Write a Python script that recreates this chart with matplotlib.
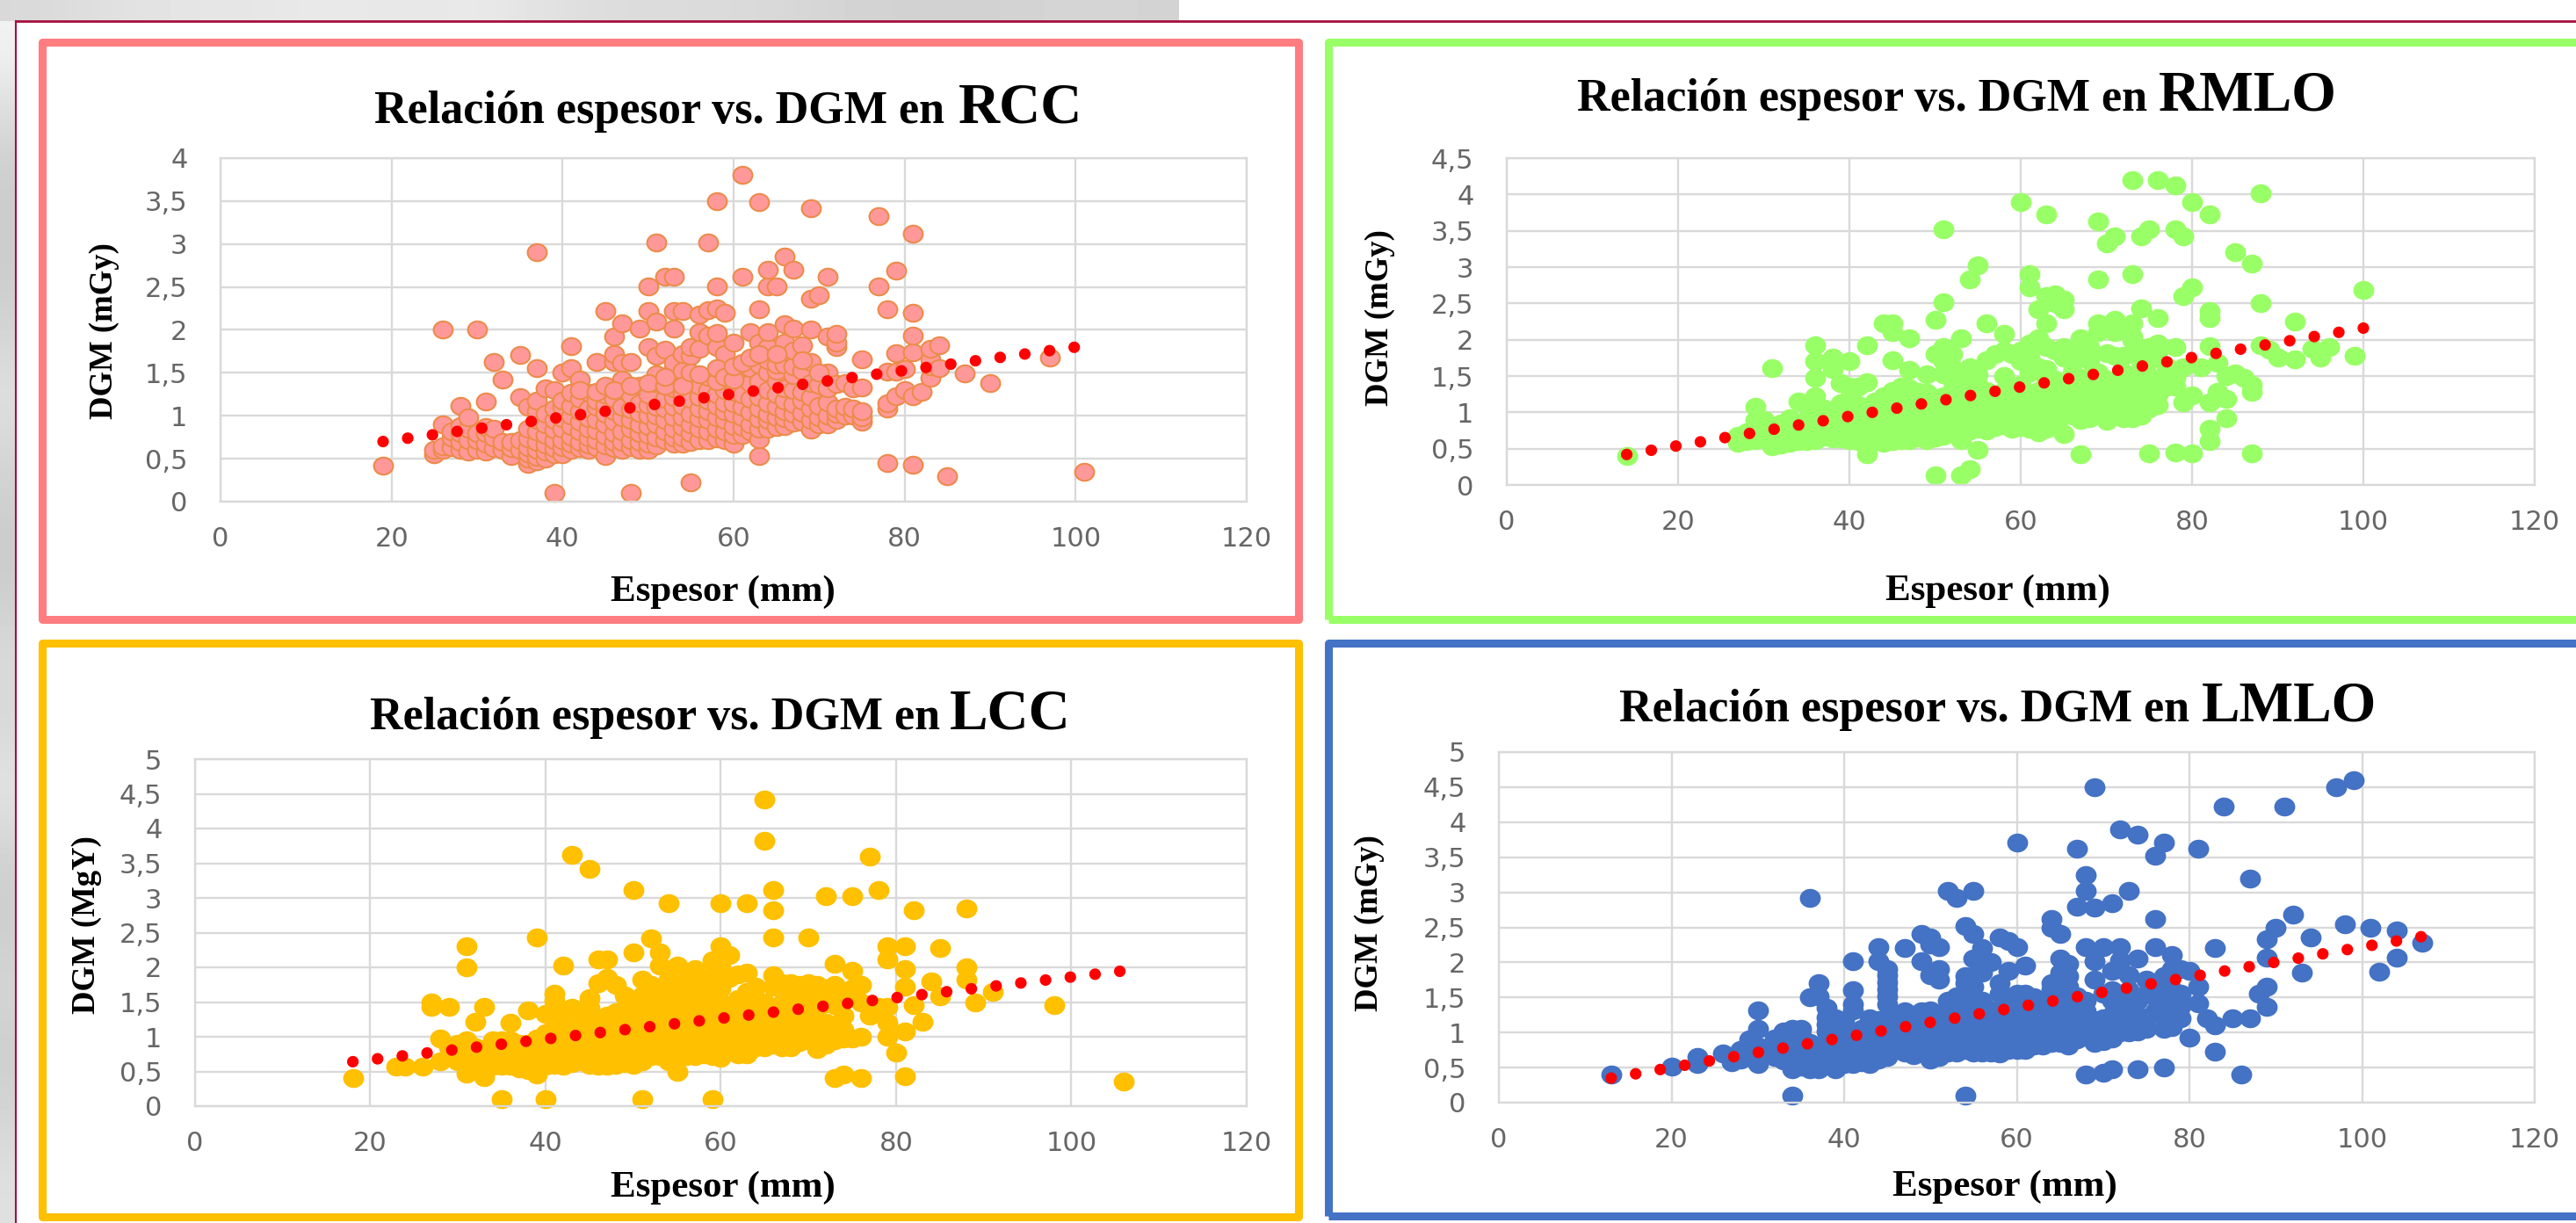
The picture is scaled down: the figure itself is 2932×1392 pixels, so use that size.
import matplotlib
matplotlib.use("Agg")
import matplotlib.pyplot as plt
from matplotlib.markers import MarkerStyle
from matplotlib.patches import Rectangle
from matplotlib.transforms import Affine2D
import numpy as np

W, H = 2932, 1392

# =========================
# DATA (thickness mm, DGM mGy)
# =========================
rcc_points = [
    (19,.42),(25,.55),(25,.6),(26,.6),(26,.64),(26,.9),(26,2.01),(27,.63),(27,.75),(27,.82),
    (28,.6),(28,.7),(28,.8),(28,.88),(28,1.11),(29,.58),(29,.72),(29,.85),(29,.98),
    (30,.6),(30,.72),(30,.8),(30,2.01),(31,.58),(31,.68),(31,.8),(31,.87),(31,1.17),
    (32,.62),(32,.75),(32,.85),(32,1.63),(33,.6),(33,.7),(33,1.42),(34,.53),(34,.62),(34,.7),
    (35,.6),(35,.72),(35,1.22),(35,1.71),(36,.44),(36,.5),(36,.56),(36,.63),(36,.74),(36,.85),(36,1.1),
    (37,.47),(37,.52),(37,.6),(37,.7),(37,.82),(37,.95),(37,1.05),(37,1.18),(37,1.55),(37,2.91),
    (38,.5),(38,.58),(38,.66),(38,.78),(38,.9),(38,1.02),(38,1.32),
    (39,.1),(39,.55),(39,.62),(39,.72),(39,.84),(39,.95),(39,1.08),(39,1.3),
    (40,.55),(40,.63),(40,.72),(40,.85),(40,.97),(40,1.1),(40,1.18),(40,1.5),
    (41,.6),(41,.68),(41,.76),(41,.88),(41,1.0),(41,1.12),(41,1.27),(41,1.55),(41,1.81),
    (42,.62),(42,.7),(42,.82),(42,.93),(42,1.05),(42,1.2),(42,1.42),
    (43,.6),(43,.66),(43,.75),(43,.85),(43,.97),(43,1.08),(43,1.27),
    (44,.63),(44,.72),(44,.83),(44,.95),(44,1.1),(44,1.18),(44,1.63),
    (45,.53),(45,.65),(45,.77),(45,.9),(45,1.02),(45,1.13),(45,1.25),(45,2.22),
    (46,.62),(46,.7),(46,.8),(46,.93),(46,1.05),(46,1.2),(46,1.63),(46,1.72),(46,1.92),
    (47,.6),(47,.7),(47,.82),(47,.98),(47,1.1),(47,1.3),(47,1.42),(47,1.62),(47,2.08),
    (48,.1),(48,.63),(48,.72),(48,.85),(48,.95),(48,1.07),(48,1.24),(48,1.63),
    (49,.6),(49,.7),(49,.8),(49,.9),(49,1.03),(49,1.15),(49,1.35),(49,2.02),
    (50,.6),(50,.68),(50,.78),(50,.88),(50,1.0),(50,1.13),(50,1.25),(50,1.8),(50,2.22),(50,2.51),
    (51,.65),(51,.75),(51,.9),(51,1.0),(51,1.1),(51,1.38),(51,1.48),(51,1.7),(51,2.1),(51,3.02),
    (52,.72),(52,.82),(52,.95),(52,1.08),(52,1.2),(52,1.77),(52,2.62),
    (53,.68),(53,.75),(53,.85),(53,.98),(53,1.1),(53,1.22),(53,1.32),(53,1.4),(53,1.55),(53,1.62),(53,2.02),(53,2.22),(53,2.62),
    (54,.68),(54,.75),(54,.87),(54,.98),(54,1.12),(54,1.25),(54,1.52),(54,1.72),(54,2.22),
    (55,.22),(55,.7),(55,.8),(55,.9),(55,1.02),(55,1.2),(55,1.42),(55,1.7),(55,1.8),
    (56,.72),(56,.85),(56,.97),(56,1.08),(56,1.22),(56,1.35),(56,1.78),(56,1.97),(56,2.18),
    (57,.72),(57,.82),(57,.95),(57,1.05),(57,1.18),(57,1.3),(57,1.45),(57,1.93),(57,2.23),(57,3.02),
    (58,.74),(58,.85),(58,.98),(58,1.12),(58,1.25),(58,1.8),(58,1.96),(58,2.25),(58,2.51),(58,3.5),
    (59,.72),(59,.82),(59,.95),(59,1.05),(59,1.15),(59,1.3),(59,1.72),(59,2.2),
    (60,.68),(60,.78),(60,.88),(60,1.02),(60,1.15),(60,1.28),(60,1.85),
    (61,.78),(61,.87),(61,.98),(61,1.1),(61,1.25),(61,1.45),(61,1.52),(61,2.62),(61,3.81),
    (62,.82),(62,.9),(62,1.04),(62,1.2),(62,1.38),(62,1.55),(62,1.97),
    (63,.53),(63,.73),(63,.85),(63,.96),(63,1.08),(63,1.22),(63,1.4),(63,1.6),(63,1.85),(63,2.24),(63,3.49),
    (64,.85),(64,.95),(64,1.02),(64,1.15),(64,1.3),(64,1.5),(64,1.65),(64,1.8),(64,1.97),(64,2.51),(64,2.7),
    (65,.87),(65,.98),(65,1.1),(65,1.25),(65,1.4),(65,1.52),(65,1.6),(65,2.51),
    (66,.88),(66,.97),(66,1.05),(66,1.18),(66,1.32),(66,1.6),(66,1.75),(66,1.85),(66,2.07),(66,2.85),
    (67,.92),(67,1.02),(67,1.14),(67,1.3),(67,1.47),(67,1.58),(67,1.76),(67,2.02),(67,2.7),
    (68,.93),(68,1.03),(68,1.18),(68,1.28),(68,1.52),(68,1.82),
    (69,.84),(69,.95),(69,1.08),(69,1.22),(69,1.38),(69,1.63),(69,2.0),(69,2.36),(69,3.42),
    (70,.9),(70,.98),(70,1.12),(70,1.36),(70,2.4),
    (71,.9),(71,1.0),(71,1.16),(71,1.32),(71,1.5),(71,1.92),(71,2.62),
    (72,.95),(72,1.02),(72,1.08),(72,1.37),(72,1.8),(72,1.85),(72,1.95),
    (73,1.0),(73,1.1),(73,1.38),(74,1.0),(74,1.08),(74,1.32),(75,.93),(75,.98),(75,1.05),(75,1.33),(75,1.66),
    (77,2.51),(77,3.32),(78,.45),(78,1.08),(78,1.15),(78,1.51),(78,2.24),(79,1.23),(79,1.51),(79,1.73),(79,2.69),
    (80,1.3),(80,1.54),(81,.43),(81,1.23),(81,1.74),(81,1.93),(81,2.2),(81,3.12),(82,1.28),
    (83,1.44),(83,1.58),(83,1.66),(83,1.78),(84,1.56),(84,1.82),(85,.3),(87,1.49),(90,1.38),(97,1.68),(101,.35),
]

# upper part of the RCC cloud, x 42 to 70
rcc_points_upper = [
    (42,1.3),(44,1.28),(45,1.35),(46,1.3),(48,1.35),(50,1.38),(52,1.35),(52,1.45),(54,1.35),(55,1.5),(56,1.48),
    (58,1.4),(58,1.55),(59,1.45),(60,1.42),(60,1.58),(61,1.62),(62,1.68),(63,1.72),(65,1.72),(68,1.65),(70,1.5),
]

rmlo_points = [
    (14,.4),(27,.58),(27,.68),(28,.6),(28,.72),(29,.62),(29,.9),(29,1.08),(30,.65),(30,.75),(30,.9),
    (31,.53),(31,.68),(31,.8),(31,1.61),(32,.56),(32,.7),(32,.85),(33,.58),(33,.72),(33,.92),
    (34,.6),(34,.72),(34,.85),(34,1.15),(35,.6),(35,.73),(35,.9),(35,1.1),(36,.62),(36,.75),(36,.88),(36,1.22),(36,1.47),(36,1.7),(36,1.92),
    (37,.66),(37,.78),(37,.92),(37,1.05),(38,.64),(38,.76),(38,.9),(38,1.0),(38,1.6),(38,1.75),
    (39,.64),(39,.75),(39,.87),(39,1.02),(39,1.13),(39,1.4),(40,.62),(40,.72),(40,.85),(40,1.0),(40,1.2),(40,1.35),(40,1.7),
    (41,.6),(41,.7),(41,.82),(41,.95),(41,1.1),(41,1.35),(42,.42),(42,.62),(42,.74),(42,.86),(42,1.02),(42,1.42),(42,1.92),
    (43,.6),(43,.72),(43,.85),(43,.98),(43,1.15),(44,.58),(44,.7),(44,.82),(44,.95),(44,1.08),(44,1.22),(44,2.22),
    (45,.6),(45,.72),(45,.85),(45,1.0),(45,1.15),(45,1.3),(45,1.72),(45,2.1),(45,2.22),
    (46,.62),(46,.75),(46,.88),(46,1.02),(46,1.2),(46,1.35),(47,.62),(47,.74),(47,.86),(47,1.0),(47,1.2),(47,1.33),(47,1.58),(47,2.02),
    (48,.65),(48,.78),(48,.9),(48,1.02),(48,1.12),(48,1.28),(49,.62),(49,.75),(49,.88),(49,1.05),(49,1.27),(49,1.52),
    (50,.13),(50,.65),(50,.78),(50,.9),(50,1.05),(50,1.2),(50,1.8),(50,2.27),(51,.68),(51,.8),(51,.93),(51,1.08),(51,1.22),(51,1.52),(51,1.7),(51,1.9),(51,2.52),(51,3.52),
    (52,.72),(52,.85),(52,1.0),(52,1.15),(52,1.3),(52,1.45),(52,1.62),(52,1.8),(53,.13),(53,.62),(53,.75),(53,.88),(53,1.03),(53,1.18),(53,1.35),(53,1.5),(53,2.02),
    (54,.22),(54,.75),(54,.9),(54,1.05),(54,1.2),(54,1.38),(54,1.62),(54,2.83),(55,.48),(55,.78),(55,.92),(55,1.05),(55,1.2),(55,1.38),(55,1.52),(55,3.02),
    (56,.75),(56,.88),(56,1.03),(56,1.18),(56,1.3),(56,1.72),(56,2.22),(57,.8),(57,.95),(57,1.08),(57,1.25),(57,1.8),(58,.82),(58,.97),(58,1.12),(58,1.3),(58,1.5),(58,1.85),(58,2.08),
    (59,.78),(59,.9),(59,1.05),(59,1.2),(59,1.8),(60,.8),(60,.95),(60,1.1),(60,1.25),(60,1.38),(60,1.7),(60,1.85),(60,3.9),
    (61,.78),(61,.92),(61,1.05),(61,1.18),(61,1.55),(61,1.75),(61,1.95),(61,2.72),(61,2.9),(62,.72),(62,.85),(62,1.0),(62,1.15),(62,1.3),(62,1.62),(62,2.02),(62,2.42),
    (63,.78),(63,.9),(63,1.05),(63,1.2),(63,1.4),(63,1.6),(63,1.9),(63,2.22),(63,2.6),(63,3.72),(64,.85),(64,1.0),(64,1.15),(64,1.3),(64,1.45),(64,1.85),(64,2.5),(64,2.62),
    (65,.7),(65,.95),(65,1.1),(65,1.25),(65,1.4),(65,1.75),(65,1.9),(65,2.42),(65,2.55),(66,.95),(66,1.08),(66,1.22),(66,1.38),(66,1.55),(66,1.85),
    (67,.42),(67,.9),(67,1.05),(67,1.2),(67,1.35),(67,1.75),(67,2.02),(68,.92),(68,1.05),(68,1.2),(68,1.32),(68,1.5),(68,1.72),(68,1.9),(69,.98),(69,1.12),(69,1.25),(69,1.4),(69,1.55),(69,2.1),(69,2.22),(69,2.83),(69,3.63),
    (70,.88),(70,1.0),(70,1.15),(70,1.3),(70,1.45),(70,1.82),(70,3.33),(71,.95),(71,1.08),(71,1.22),(71,1.35),(71,1.78),(71,2.1),(71,2.28),(71,3.42),
    (72,.92),(72,1.05),(72,1.2),(72,1.38),(72,1.55),(72,1.78),(73,.92),(73,1.05),(73,1.2),(73,1.35),(73,1.5),(73,1.8),(73,2.0),(73,2.05),(73,2.22),(73,2.9),(73,4.2),
    (74,.95),(74,1.1),(74,1.28),(74,1.42),(74,1.62),(74,2.43),(74,3.42),(75,.43),(75,1.05),(75,1.18),(75,1.5),(75,1.72),(75,1.9),(75,3.52),(76,1.1),(76,1.25),(76,1.38),(76,1.85),(76,1.95),(76,2.3),(76,4.2),
    (77,1.35),(77,1.5),(77,1.63),(78,.45),(78,1.35),(78,1.48),(78,1.9),(78,3.52),(78,4.12),(79,1.14),(79,1.62),(79,2.6),(79,3.42),(80,.43),(80,1.23),(80,2.72),(80,3.9),
    (81,1.62),(82,.6),(82,.77),(82,1.14),(82,1.91),(82,2.3),(82,2.4),(82,3.72),(83,1.28),(83,1.68),(84,.92),(84,1.19),(84,1.5),(85,1.54),(85,3.2),(86,1.48),
    (87,.43),(87,1.28),(87,1.38),(87,3.05),(88,1.92),(88,2.5),(88,4.02),(89,1.86),(90,1.76),(92,1.73),(92,2.25),(94,1.88),(95,1.75),(96,1.9),(99,1.78),(100,2.68),
]

lcc_points = [
    (18,.4),(23,.57),(24,.57),(26,.57),(27,1.43),(27,1.5),(28,.65),(28,.97),(29,.85),(29,1.43),(30,.65),(30,.9),(31,.47),(31,.62),(31,.75),(31,.95),(31,2.0),(31,2.3),
    (32,.6),(32,.72),(32,.85),(32,1.22),(33,.42),(33,.6),(33,.7),(33,.82),(33,1.43),(34,.58),(34,.7),(34,.82),(34,.95),(35,.1),(35,.58),(35,.72),(35,.85),(35,.95),
    (36,.58),(36,.7),(36,.82),(36,.95),(36,1.2),(37,.55),(37,.68),(37,.8),(37,.9),(38,.52),(38,.65),(38,.78),(38,.9),(38,1.38),(39,.45),(39,.6),(39,.72),(39,.85),(39,.98),(39,2.43),
    (40,.1),(40,.58),(40,.7),(40,.82),(40,.95),(40,1.05),(40,1.33),(41,.6),(41,.72),(41,.85),(41,1.0),(41,1.15),(41,1.52),(41,1.62),(42,.58),(42,.7),(42,.85),(42,1.0),(42,1.15),(42,1.35),(42,2.02),
    (43,.62),(43,.75),(43,.9),(43,1.05),(43,1.42),(43,3.62),(44,.65),(44,.78),(44,.92),(44,1.05),(44,1.25),(45,.6),(45,.72),(45,.85),(45,1.0),(45,1.15),(45,1.42),(45,1.56),(45,3.42),
    (46,.58),(46,.7),(46,.85),(46,1.0),(46,1.2),(46,1.77),(46,2.11),(47,.58),(47,.72),(47,.88),(47,1.05),(47,1.3),(47,1.85),(47,2.11),(48,.6),(48,.75),(48,.9),(48,1.05),(48,1.2),(48,1.35),(48,1.75),
    (49,.62),(49,.78),(49,.92),(49,1.08),(49,1.25),(49,1.42),(49,1.6),(50,.6),(50,.72),(50,.85),(50,1.0),(50,1.15),(50,1.32),(50,1.5),(50,2.22),(50,3.12),
    (51,.1),(51,.65),(51,.8),(51,.95),(51,1.1),(51,1.25),(51,1.42),(51,1.6),(51,1.82),(52,.72),(52,.88),(52,1.02),(52,1.18),(52,1.35),(52,1.52),(52,1.75),(52,2.42),
    (53,.72),(53,.85),(53,1.0),(53,1.15),(53,1.3),(53,1.5),(53,1.65),(53,2.03),(53,2.22),(54,.65),(54,.8),(54,.95),(54,1.1),(54,1.25),(54,1.42),(54,1.82),(54,2.92),
    (55,.5),(55,.72),(55,.88),(55,1.02),(55,1.18),(55,1.35),(55,1.55),(55,1.72),(55,2.02),(56,.72),(56,.85),(56,1.0),(56,1.15),(56,1.32),(56,1.48),(56,1.65),(56,1.8),
    (57,.72),(57,.88),(57,1.02),(57,1.18),(57,1.35),(57,1.55),(57,1.75),(57,1.97),(58,.75),(58,.9),(58,1.05),(58,1.22),(58,1.38),(58,1.55),(58,1.72),(58,1.85),
    (59,.1),(59,.72),(59,.85),(59,1.0),(59,1.15),(59,1.3),(59,1.48),(59,1.68),(59,1.88),(59,2.1),(60,.7),(60,.85),(60,1.0),(60,1.15),(60,1.32),(60,1.5),(60,1.7),(60,2.0),(60,2.3),(60,2.92),
    (61,.78),(61,.92),(61,1.08),(61,1.22),(61,1.4),(61,1.85),(61,2.18),(62,.75),(62,.88),(62,1.02),(62,1.18),(62,1.35),(62,1.55),(62,1.9),(63,.75),(63,.9),(63,1.05),(63,1.2),(63,1.42),(63,1.65),(63,1.92),(63,2.92),
    (64,.85),(64,1.0),(64,1.15),(64,1.3),(64,1.55),(64,1.72),(65,.85),(65,.98),(65,1.12),(65,1.3),(65,1.5),(65,3.82),(65,4.42),(66,.88),(66,1.02),(66,1.18),(66,1.35),(66,1.72),(66,1.88),(66,2.43),(66,2.82),(66,3.12),
    (67,.85),(67,1.0),(67,1.15),(67,1.32),(67,1.48),(67,1.77),(68,.85),(68,.98),(68,1.12),(68,1.28),(68,1.62),(68,1.77),(69,.92),(69,1.05),(69,1.22),(69,1.42),(69,1.75),(70,.95),(70,1.1),(70,1.3),(70,1.55),(70,1.77),(70,2.43),
    (71,.82),(71,.97),(71,1.15),(71,1.42),(71,1.6),(71,1.75),(72,.88),(72,1.02),(72,1.2),(72,1.48),(72,1.7),(72,3.02),(73,.4),(73,.95),(73,1.1),(73,1.45),(73,1.75),(73,2.05),(74,.45),(74,.98),(74,1.1),(74,1.3),(74,1.62),
    (75,.98),(75,1.7),(75,1.95),(75,3.02),(76,.4),(76,1.0),(76,1.5),(76,1.75),(77,1.3),(77,1.45),(77,3.6),(78,1.43),(78,3.12),(79,1.0),(79,1.2),(79,1.43),(79,2.11),(79,2.3),
    (80,.77),(81,.43),(81,1.08),(81,1.72),(81,1.97),(81,2.3),(82,1.45),(82,2.82),(83,1.22),(84,1.8),(85,1.58),(85,2.28),(88,1.82),(88,2.0),(88,2.85),(89,1.5),(91,1.65),(98,1.45),(106,.35),
]

lmlo_points = [
    (13,.4),(20,.52),(23,.55),(23,.65),(26,.7),(27,.58),(27,.66),(28,.62),(28,.75),(29,.72),(29,.9),(30,.55),(30,.8),(30,1.05),(30,1.32),
    (31,.68),(31,.78),(32,.65),(32,.72),(32,.92),(33,.6),(33,.72),(33,.88),(33,1.02),(34,.1),(34,.48),(34,.6),(34,.72),(34,.9),(34,1.05),(35,.52),(35,.65),(35,.78),(35,.95),(35,1.05),
    (36,.48),(36,.6),(36,.72),(36,.85),(36,1.5),(36,2.92),(37,.48),(37,.6),(37,.7),(37,.82),(37,1.52),(37,1.7),(38,.55),(38,.68),(38,.8),(38,1.02),(38,1.12),(38,1.22),(38,1.35),
    (39,.48),(39,.6),(39,.72),(39,.85),(39,1.02),(39,1.12),(39,1.2),(40,.55),(40,.65),(40,.78),(40,.92),(40,1.05),(40,1.18),(41,.55),(41,.68),(41,.8),(41,.95),(41,1.32),(41,1.4),(41,1.6),(41,2.02),
    (42,.58),(42,.7),(42,.82),(42,.95),(42,1.05),(43,.55),(43,.68),(43,.8),(43,.92),(43,1.08),(43,1.2),(44,.62),(44,.75),(44,.88),(44,1.02),(44,1.18),(44,2.02),(44,2.22),
    (45,.65),(45,.78),(45,.9),(45,1.05),(45,1.2),(45,1.4),(45,1.52),(45,1.62),(45,1.72),(45,1.82),(45,1.9),(46,.75),(46,.88),(46,1.02),(46,1.18),(47,.72),(47,.85),(47,1.0),(47,1.15),(47,1.3),(47,2.21),
    (48,.68),(48,.82),(48,.95),(48,1.1),(48,1.25),(49,1.05),(49,1.2),(49,1.3),(49,2.02),(49,2.41),(50,.62),(50,.72),(50,.85),(50,1.0),(50,1.15),(50,1.32),(50,1.82),(50,2.25),(50,2.35),
    (51,.65),(51,.78),(51,.92),(51,1.08),(51,1.25),(51,1.75),(51,1.9),(51,2.22),(52,.72),(52,.85),(52,1.0),(52,1.15),(52,1.3),(52,1.45),(52,3.02),(53,.72),(53,.85),(53,1.0),(53,1.15),(53,1.32),(53,1.52),(53,2.92),
    (54,.1),(54,.75),(54,.88),(54,1.02),(54,1.18),(54,1.35),(54,1.52),(54,1.7),(54,1.8),(54,2.52),(55,.72),(55,.85),(55,1.0),(55,1.15),(55,1.32),(55,1.5),(55,1.65),(55,1.8),(55,2.06),(55,2.4),(55,3.02),
    (56,.72),(56,.85),(56,1.0),(56,1.15),(56,1.3),(56,1.45),(56,1.85),(56,2.2),(57,.72),(57,.88),(57,1.02),(57,1.18),(57,1.32),(57,2.0),(58,.7),(58,.85),(58,1.0),(58,1.15),(58,1.3),(58,1.55),(58,1.7),(58,2.35),
    (59,.75),(59,.88),(59,1.02),(59,1.18),(59,1.35),(59,1.5),(59,1.88),(59,2.3),(60,.75),(60,.9),(60,1.05),(60,1.2),(60,1.38),(60,1.55),(60,2.22),(60,3.71),(61,.75),(61,.88),(61,1.02),(61,1.35),(61,1.55),(61,1.95),
    (62,.82),(62,.95),(62,1.08),(62,1.22),(62,1.38),(62,1.5),(63,.82),(63,.95),(63,1.1),(63,1.25),(63,1.4),(64,.85),(64,.98),(64,1.12),(64,1.28),(64,1.42),(64,1.62),(64,1.7),(64,2.5),(64,2.62),
    (65,.85),(65,.98),(65,1.12),(65,1.28),(65,1.6),(65,1.75),(65,1.85),(65,2.05),(65,2.4),(66,.82),(66,.95),(66,1.1),(66,1.25),(66,1.5),(66,1.65),(66,1.8),(66,1.98),
    (67,.9),(67,1.03),(67,1.18),(67,1.38),(67,1.52),(67,2.8),(67,3.62),(68,.4),(68,.95),(68,1.1),(68,1.3),(68,1.45),(68,2.22),(68,3.02),(68,3.25),(69,.85),(69,1.0),(69,1.18),(69,1.75),(69,2.02),(69,2.78),(69,4.5),
    (70,.42),(70,.88),(70,1.02),(70,1.2),(70,1.55),(70,2.22),(71,.47),(71,.92),(71,1.08),(71,1.25),(71,1.45),(71,1.6),(71,1.88),(71,2.85),(72,1.0),(72,1.2),(72,1.4),(72,1.55),(72,1.9),(72,2.03),(72,2.22),(72,3.9),
    (73,1.0),(73,1.15),(73,1.4),(73,1.6),(73,1.82),(73,3.02),(74,.48),(74,1.02),(74,1.2),(74,1.45),(74,2.05),(74,3.82),(75,1.05),(75,1.22),(75,1.55),(75,1.75),(76,1.3),(76,1.5),(76,1.65),(76,2.22),(76,2.62),(76,3.52),
    (77,.5),(77,1.05),(77,1.2),(77,1.45),(77,1.6),(77,1.8),(77,3.71),(78,1.08),(78,1.22),(78,1.42),(78,1.62),(78,1.9),(78,2.1),(79,1.2),(79,1.38),(79,1.55),(79,1.9),(80,.93),(80,1.88),
    (81,1.42),(81,1.65),(81,3.62),(82,1.2),(83,.73),(83,1.1),(83,2.2),(84,4.22),(85,1.2),(86,.4),(87,1.2),(87,3.2),(88,1.55),(89,1.37),(89,1.65),(89,2.07),(89,2.33),(90,2.5),
    (91,4.22),(92,2.68),(93,1.85),(94,2.35),(97,4.5),(98,2.55),(99,4.6),(101,2.5),(102,1.87),(104,2.07),(104,2.45),(107,2.28),
]

# trend lines: start and end of the fitted line
rcc_trend_x, rcc_trend_y = [19, 100], [0.70, 1.80]
rmlo_trend_x, rmlo_trend_y = [14, 100], [0.42, 2.16]
lcc_trend_x, lcc_trend_y = [18, 106], [0.64, 1.95]
lmlo_trend_x, lmlo_trend_y = [13, 107], [0.35, 2.37]

x_ticks = [0, 20, 40, 60, 80, 100, 120]
y_ticks_4 = [0, 0.5, 1, 1.5, 2, 2.5, 3, 3.5, 4]
y_ticks_45 = y_ticks_4 + [4.5]
y_ticks_5 = y_ticks_45 + [5]

top_strip = [.85, .88, .90, .90, .92, .90, .92, .88, .86, .86, .85, .83, .82, .82, .84, .83]
left_strip = [.95, .85, .80, .80, .82, .88, .84, .80, .80, .86, .84, .90, .82, .80, .84, .80, .84, .88]

# =========================
# FIGURE
# =========================
fig = plt.figure(figsize=(W / 100, H / 100), dpi=100, facecolor="white")


def box(x0, y0, x1, y1):
    return [x0 / W, 1 - y1 / H, (x1 - x0) / W, (y1 - y0) / H]


def ftext(x, y, s, **kw):
    return fig.text(x / W, 1 - y / H, s, **kw)


# grey photo behind the slide
bg = fig.add_axes(box(0, 0, 1342, 24))
bg.imshow(np.array([top_strip]), cmap="gray", vmin=0, vmax=1, aspect="auto", interpolation="bicubic")
bg.axis("off")
bg = fig.add_axes(box(0, 24, 18, H))
bg.imshow(np.array([left_strip]).T, cmap="gray", vmin=0, vmax=1, aspect="auto", interpolation="bicubic")
bg.axis("off")
fig.add_artist(plt.Line2D([18 / W, 1], [1 - 24 / H] * 2, color="#A50F3E", lw=2))
fig.add_artist(plt.Line2D([18 / W] * 2, [0, 1 - 24 / H], color="#A50F3E", lw=1.5))


def panel(points, trend_x, trend_y, yticks, ymax, color, edge, frame_color, frame, axes_box,
          name, title_x, name_x, title_y, ylabel, ylabel_pos, xlabel_pos):
    # coloured frame
    x0, y0, x1, y1 = frame
    fig.add_artist(Rectangle((x0 / W, 1 - y1 / H), (x1 - x0) / W, (y1 - y0) / H, transform=fig.transFigure,
                             fill=False, ec=frame_color, lw=6.5, joinstyle="round"))
    ax = fig.add_axes(box(*axes_box))
    ax.set_xlim(0, 120)
    ax.set_ylim(0, ymax)
    ax.set_xticks(x_ticks)
    ax.set_yticks(yticks)
    ax.set_yticklabels([str(v).replace(".", ",") for v in yticks])
    ax.tick_params(length=0, labelsize=22, labelcolor="#666666")
    ax.tick_params(axis="x", pad=20)
    ax.tick_params(axis="y", pad=27)
    ax.grid(True, color="#D9D9D9", lw=1.7)
    ax.set_axisbelow(True)
    for s in ax.spines.values():
        s.set_color("#D9D9D9")
        s.set_linewidth(1.7)

    xs = [p[0] for p in points]
    ys = [p[1] for p in points]
    oval = MarkerStyle("o", transform=Affine2D().scale(1.12, 1))
    ax.plot(xs, ys, ls="none", marker=oval, ms=14, mfc=color, mec=edge, mew=1.5, clip_on=False)
    ax.plot(trend_x, trend_y, color="#FF0000", lw=9.5, ls=(0, (0.01, 2.139)), dash_capstyle="round", clip_on=False)

    ftext(title_x, title_y, "Relación espesor vs. DGM en", family="Liberation Serif", weight="bold",
          fontsize=37.5, ha="left", va="baseline", color="black")
    ftext(name_x, title_y, name, family="Liberation Serif", weight="bold",
          fontsize=47, ha="left", va="baseline", color="black")
    ftext(ylabel_pos[0], ylabel_pos[1], ylabel, family="Liberation Serif", weight="bold",
          fontsize=26.5, rotation=90, ha="center", va="center", color="black")
    ftext(xlabel_pos[0], xlabel_pos[1], "Espesor (mm)", family="Liberation Serif", weight="bold",
          fontsize=31, ha="center", va="baseline", color="black")


panel(rcc_points + rcc_points_upper, rcc_trend_x, rcc_trend_y, y_ticks_4, 4, "#FF9999", "#ED8B4A", "#FF7C80",
      (48, 48, 1478, 705), (251, 180, 1419, 571), "RCC", 426, 1091, 140,
      "DGM (mGy)", (119, 377), (823, 684))
panel(rmlo_points, rmlo_trend_x, rmlo_trend_y, y_ticks_45, 4.5, "#99FF66", "#99FF66", "#99FF66",
      (1512, 48, 2950, 705), (1715, 180, 2885, 552), "RMLO", 1795, 2457, 126,
      "DGM (mGy)", (1571, 362), (2274, 683))
panel(lcc_points, lcc_trend_x, lcc_trend_y, y_ticks_5, 5, "#FFC000", "#FFC000", "#FFC000",
      (48, 732, 1478, 1385), (222, 864, 1419, 1259), "LCC", 421, 1081, 830,
      "DGM (MgY)", (99, 1053), (823, 1362))
panel(lmlo_points, lmlo_trend_x, lmlo_trend_y, y_ticks_5, 5, "#4472C4", "#4472C4", "#4472C4",
      (1512, 732, 2950, 1384), (1706, 856, 2885, 1255), "LMLO", 1843, 2506, 821,
      "DGM (mGy)", (1559, 1051), (2282, 1361))

fig.savefig("out.png", dpi=100)
